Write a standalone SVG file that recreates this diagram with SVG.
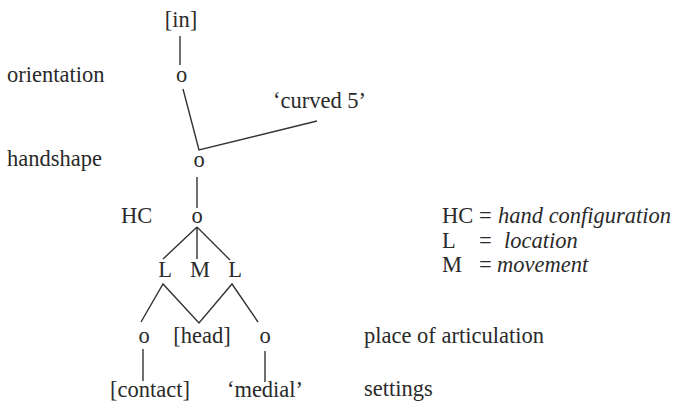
<svg xmlns="http://www.w3.org/2000/svg" width="677" height="404" viewBox="0 0 677 404">
<style>
text{font-family:"Liberation Serif","Times New Roman",serif;font-size:22.5px;fill:#2a2a2a}
.c{text-anchor:middle}
.i{font-style:italic}
.e{stroke:#333;stroke-width:1.4;fill:none;stroke-linejoin:miter}
</style>
<rect width="677" height="404" fill="#fff"/>
<g id="tiers">
<text x="7" y="82">orientation</text>
<text x="7" y="166">handshape</text>
<text x="364" y="343">place of articulation</text>
<text x="364" y="396">settings</text>
</g>
<g id="n-in"><text class="c" x="181" y="27">[in]</text></g>
<g id="n-orient"><text class="c" x="181.5" y="82">o</text></g>
<g id="n-curved"><text x="273" y="108">‘curved 5’</text></g>
<g id="n-hand"><text class="c" x="199" y="167">o</text></g>
<g id="n-hc"><text x="121" y="223">HC</text><text class="c" x="197" y="223">o</text></g>
<g id="n-l1"><text class="c" x="165" y="277">L</text></g>
<g id="n-m"><text class="c" x="200" y="277">M</text></g>
<g id="n-l2"><text class="c" x="235" y="277">L</text></g>
<g id="n-o1"><text class="c" x="144" y="343">o</text></g>
<g id="n-head"><text class="c" x="202" y="343">[head]</text></g>
<g id="n-o2"><text class="c" x="265" y="343">o</text></g>
<g id="n-contact"><text class="c" x="150" y="397">[contact]</text></g>
<g id="n-medial"><text class="c" x="265" y="397">‘medial’</text></g>
<g id="legend">
<text x="442" y="223">HC</text><text x="479" y="223">=</text><text class="i" x="498" y="223">hand configuration</text>
<text x="442" y="247.5">L</text><text x="479" y="247.5">=</text><text class="i" x="504" y="247.5">location</text>
<text x="442" y="272">M</text><text x="479" y="272">=</text><text class="i" x="497" y="272">movement</text>
</g>
<g id="connectors">
<path class="e" d="M180 36V65"/>
<path class="e" d="M183 89L199 150L317 121"/>
<path class="e" d="M197 177V208"/>
<path class="e" d="M197 227L163 259M197 227V259M197 227L230 260"/>
<path class="e" d="M141 322L163 284L199 323L232 284L258 322"/>
<path class="e" d="M143 349V381"/>
<path class="e" d="M265 351V382"/>
</g>
</svg>
